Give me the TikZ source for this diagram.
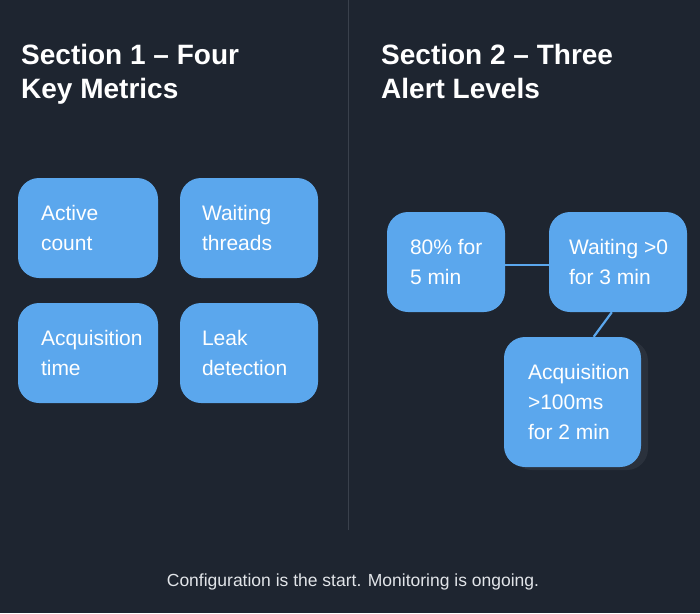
\documentclass[tikz,border=0pt]{standalone}
\usepackage{fontspec}
\setmainfont{Liberation Sans}
\usepackage{xcolor}
\usetikzlibrary{positioning, calc, shadows}
\definecolor{PanelDark}{RGB}{30,37,48}
\definecolor{DividerGray}{RGB}{58,65,76}
\definecolor{CardBlue}{RGB}{91,167,237}
\definecolor{ShadowGray}{RGB}{42,49,60}
\definecolor{FootGray}{RGB}{226,229,233}

\begin{document}
\begin{tikzpicture}[x=1pt,y=-1pt,
    card/.style={fill=CardBlue,rounded corners=21pt,inner sep=0pt,
                 minimum width=140pt,minimum height=100pt},
    cardtext/.style={anchor=west,align=left,text=white,inner sep=0pt,
                     font=\fontsize{21}{30}\selectfont},
    title/.style={anchor=north west,align=left,text=white,inner sep=0pt,
                  font=\bfseries\fontsize{28}{34}\selectfont},
    link/.style={CardBlue,line width=2.2pt}
  ]
    \fill[PanelDark] (0,0) rectangle (700,613);
    \useasboundingbox (0,0) rectangle (700,613);
    % divider between the two sections
    \coordinate (dtop) at (348,0);
    \coordinate (dbot) at (348,530);
    \draw[DividerGray,line width=1pt] (dtop) -- (dbot);

    % section 1
    \node[title] (t1) at (21,44) {Section 1 -- Four\\Key Metrics};
    \node[card] (act)  at (88,228)  {};
    \node[card,minimum width=138pt] (wait) at (249,228) {};
    \node[card] (acq)  at (88,353)  {};
    \node[card,minimum width=138pt] (leak) at (249,353) {};
    \node[cardtext,right=23pt of act.west]  (actt)  {Active\\count};
    \node[cardtext,right=22pt of wait.west] (waitt) {Waiting\\threads};
    \node[cardtext,right=23pt of acq.west]  (acqt)  {Acquisition\\time};
    \node[cardtext,right=22pt of leak.west] (leakt) {Leak\\detection};

    % section 2
    \node[title] (t2) at (381,44) {Section 2 -- Three\\Alert Levels};
    \node[card,minimum width=118pt] (pct) at (446,262) {};
    \node[card,minimum width=138pt] (waitgt) at (618,262) {};
    \node[card,minimum width=137pt,minimum height=130pt,
          drop shadow={shadow xshift=7pt,shadow yshift=-3pt,fill=ShadowGray,opacity=1}]
          (acqgt) at (572.5,402) {};
    \draw[link] ([yshift=-3pt]pct.east) -- ([yshift=-3pt]waitgt.west);
    \draw[link] (waitgt.263) -- (acqgt.72);
    \node[cardtext,right=23pt of pct.west]    (pctt)    {80\% for\\5 min};
    \node[cardtext,right=20pt of waitgt.west] (waitgtt) {Waiting >0\\for 3 min};
    \node[cardtext,right=24pt of acqgt.west]  (acqgtt)  {Acquisition\\>100ms\\for 2 min};

    % footer
    \node[anchor=base,text=FootGray,inner sep=0pt,font=\fontsize{17.5}{21}\selectfont]
      (foot) at (353,586) {Configuration is the start. Monitoring is ongoing.};
\end{tikzpicture}
\end{document}
